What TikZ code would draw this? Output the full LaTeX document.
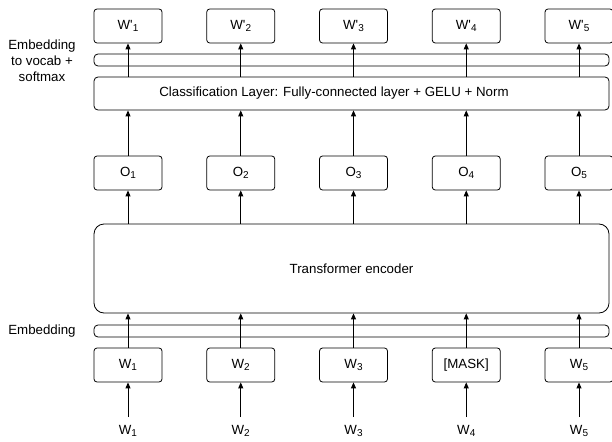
\documentclass[tikz,border=0pt]{standalone}
\usepackage{fontspec}
\setmainfont{Liberation Sans}
\usetikzlibrary{arrows.meta}
\newcommand{\tsub}[1]{\raisebox{-0.35ex}{\fontsize{10}{10}\selectfont #1}}

\begin{document}
\begin{tikzpicture}
        [x=1pt, y=-1pt,
         font=\fontsize{13.3}{16}\selectfont,
         token_style/.style={draw=black,line width=0.8pt,rounded corners=3pt,minimum width=68pt,minimum height=34pt,inner sep=0pt},
         wide_style/.style={draw=black,line width=0.8pt,rounded corners=4pt,minimum width=515pt,inner sep=0pt},
         edge_style/.style={draw=black,line width=0.9pt,-{Triangle[length=6pt,width=5pt]}},
         input_edge_style/.style={edge_style,shorten <=14pt}]
            \useasboundingbox (0,0) rectangle (612,441);
            % bars and layers
            \node[wide_style,minimum height=12pt] (vocab) at (351.5,60) {};
            \node[wide_style,minimum height=33pt] (cls) at (351.5,93.5) {};
            \node (cls_text) at (334,93.5) {Classification Layer: Fully-connected layer + GELU + Norm};
            \node[wide_style,minimum height=89pt,rounded corners=10pt] (enc) at (351.5,268.5) {Transformer encoder};
            \node[wide_style,minimum height=12pt] (emb) at (351.5,331) {};
            \node[align=center] (vocab_label) at (42,61) {Embedding\\to vocab +\\softmax};
            \node (emb_label) at (42,331) {Embedding};
            % output tokens
            \node[token_style] (out1) at (128, 26) {W\textquotesingle\tsub{1}};
            \node[token_style] (out2) at (240.75, 26) {W\textquotesingle\tsub{2}};
            \node[token_style] (out3) at (353.5, 26) {W\textquotesingle\tsub{3}};
            \node[token_style] (out4) at (466.25, 26) {W\textquotesingle\tsub{4}};
            \node[token_style] (out5) at (579, 26) {W\textquotesingle\tsub{5}};
            % encoder outputs
            \node[token_style] (o1) at (128, 173) {O\tsub{1}};
            \node[token_style] (o2) at (240.75, 173) {O\tsub{2}};
            \node[token_style] (o3) at (353.5, 173) {O\tsub{3}};
            \node[token_style] (o4) at (466.25, 173) {O\tsub{4}};
            \node[token_style] (o5) at (579, 173) {O\tsub{5}};
            % input boxes
            \node[token_style] (w1) at (128, 365) {W\tsub{1}};
            \node[token_style] (w2) at (240.75, 365) {W\tsub{2}};
            \node[token_style] (w3) at (353.5, 365) {W\tsub{3}};
            \node[token_style] (w4) at (466.25, 365) {[MASK]};
            \node[token_style] (w5) at (579, 365) {W\tsub{5}};
            % input words
            \node (in1) at (128, 431) {W\tsub{1}};
            \node (in2) at (240.75, 431) {W\tsub{2}};
            \node (in3) at (353.5, 431) {W\tsub{3}};
            \node (in4) at (466.25, 431) {W\tsub{4}};
            \node (in5) at (579, 431) {W\tsub{5}};
            \draw[input_edge_style]  (in1.center) -- (w1);
            \draw[input_edge_style]  (in2.center) -- (w2);
            \draw[input_edge_style]  (in3.center) -- (w3);
            \draw[input_edge_style]  (in4.center) -- (w4);
            \draw[input_edge_style]  (in5.center) -- (w5);
            \draw[edge_style]  (w1) -- (enc.south -| w1);
            \draw[edge_style]  (w2) -- (enc.south -| w2);
            \draw[edge_style]  (w3) -- (enc.south -| w3);
            \draw[edge_style]  (w4) -- (enc.south -| w4);
            \draw[edge_style]  (w5) -- (enc.south -| w5);
            \draw[edge_style]  (enc.north -| o1) -- (o1);
            \draw[edge_style]  (enc.north -| o2) -- (o2);
            \draw[edge_style]  (enc.north -| o3) -- (o3);
            \draw[edge_style]  (enc.north -| o4) -- (o4);
            \draw[edge_style]  (enc.north -| o5) -- (o5);
            \draw[edge_style]  (o1) -- (cls.south -| o1);
            \draw[edge_style]  (o2) -- (cls.south -| o2);
            \draw[edge_style]  (o3) -- (cls.south -| o3);
            \draw[edge_style]  (o4) -- (cls.south -| o4);
            \draw[edge_style]  (o5) -- (cls.south -| o5);
            \draw[edge_style]  (cls.north -| out1) -- (out1);
            \draw[edge_style]  (cls.north -| out2) -- (out2);
            \draw[edge_style]  (cls.north -| out3) -- (out3);
            \draw[edge_style]  (cls.north -| out4) -- (out4);
            \draw[edge_style]  (cls.north -| out5) -- (out5);
        \end{tikzpicture}
\end{document}
